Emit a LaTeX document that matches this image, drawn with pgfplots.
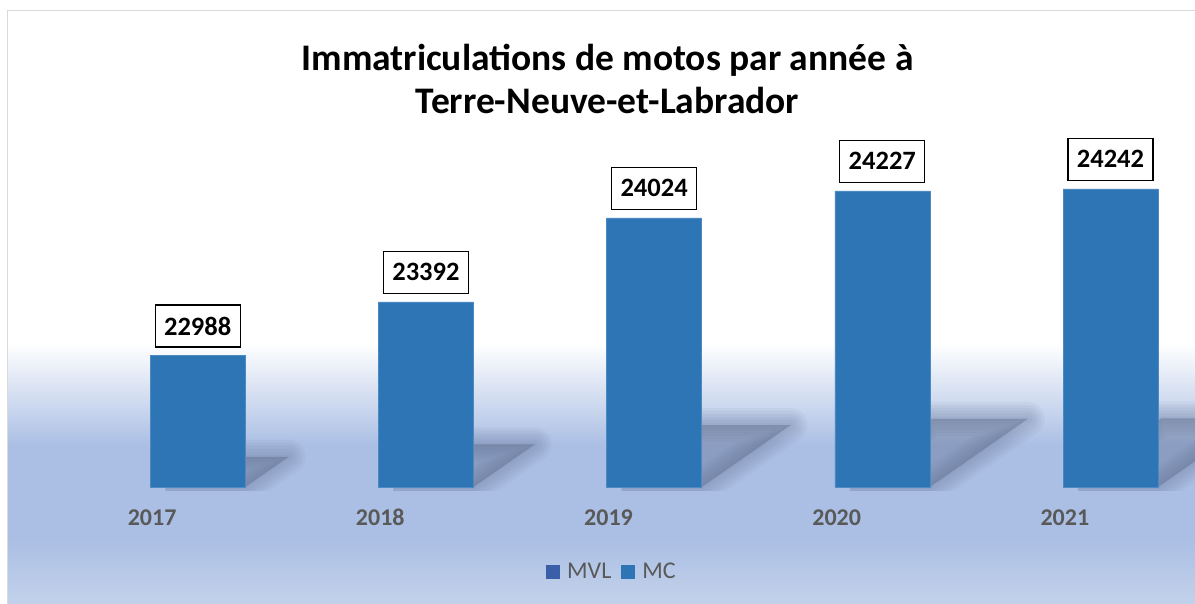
\documentclass[border=0pt]{standalone}
\usepackage{pgfplots}
\pgfplotsset{compat=1.18}
\usepackage{fontspec}
\setmainfont{Carlito}
\definecolor{barblue}{HTML}{2E75B6}
\definecolor{mvlblue}{HTML}{3B5EA8}
\definecolor{bgblue}{HTML}{ABBFE4}
\definecolor{bgbottom}{HTML}{C3D2EB}
\definecolor{txtgray}{HTML}{595959}
\definecolor{framegray}{HTML}{D9D9D9}
\definecolor{shadowc}{HTML}{4A5878}
\begin{document}
\begin{tikzpicture}[x=1pt,y=1pt]
\useasboundingbox (0,0) rectangle (1195,604);
\fill[white] (0,0) rectangle (1195,604);
% background gradient
\shade[top color=white, bottom color=bgblue] (8,159) rectangle (1195,261);
\fill[bgblue] (8,63.8) rectangle (1195,159.4);
\shade[top color=bgblue, bottom color=bgbottom] (8,0) rectangle (1195,64);
\draw[framegray, line width=1.5] (7.5,0) -- (7.5,593.5) -- (1195,593.5);
% soft perspective shadows behind the bars (bar height above the 22000 baseline)
\foreach \i/\hv in {0/988,1/1392,2/2024,3/2227,4/2242}{
  \pgfmathsetmacro\xr{38+228.2*(\i+0.7)+47.45}
  \pgfmathsetmacro\xl{\xr-94.9}
  \pgfmathsetmacro\hh{\hv*0.13293}
  \pgfmathsetmacro\ddx{0.33*\hh}
  \pgfmathsetmacro\ddy{0.23*\hh}
  \begin{scope}
    \clip (\xl+15,113) rectangle (1195,604);
    \foreach \w in {34,28,22,16,10,4}{
      \fill[shadowc, fill opacity=0.06, draw=shadowc, draw opacity=0.05, line width=\w, line join=round]
        (\xl,117) -- (\xr,117) -- (\xr+\ddx,117+\ddy) -- (\xl+\ddx,117+\ddy) -- cycle;
    }
  \end{scope}
}
\begin{axis}[
  at={(38pt,117pt)}, anchor=south west,
  scale only axis, width=1141pt, height=398.8pt,
  xmin=-0.5, xmax=4.5, ymin=22000, ymax=25000,
  clip=false,
  axis line style={draw=none},
  ytick=\empty,
  xtick={0,1,2,3,4},
  xticklabels={2017,2018,2019,2020,2021},
  xtick style={draw=none},
  major tick length=0pt,
  xticklabel style={font=\fontsize{24}{24}\selectfont\bfseries, text=txtgray, anchor=base, yshift=-39pt},
  /pgf/number format/assume math mode=true,
  legend style={at={(0.503,-0.213)}, anchor=center, draw=none, fill=none,
    legend columns=2, font=\fontsize{24}{24}\selectfont, text=txtgray,
    /tikz/every even column/.append style={column sep=8pt}},
]
\addlegendimage{legend image code/.code={\fill[mvlblue, draw=none] (0pt,-7pt) rectangle (14pt,7pt); \path[draw=none, fill=none] (0pt,0pt) -- (19pt,0pt);}}
\addlegendentry{MVL}
\addplot[ybar, fill=barblue, draw=barblue!85!white, bar width=0.416, bar shift=0.2,
  legend image code/.code={\fill[barblue, draw=none] (0pt,-7pt) rectangle (14pt,7pt); \path[draw=none, fill=none] (0pt,0pt) -- (19pt,0pt);},
  nodes near coords={\pgfmathprintnumber[1000 sep={}]{\pgfplotspointmeta}},
  every node near coord/.append style={draw=black, line width=1.3pt, fill=white,
    font=\fontsize{26.5}{26.5}\selectfont\bfseries, text=black, minimum width=85pt,
    minimum height=42pt, inner sep=0pt, anchor=south, xshift=45.6pt, yshift=8pt}]
  coordinates {(0,22988) (1,23392) (2,24024) (3,24227) (4,24242)};
\addlegendentry{MC}
\end{axis}
\node[align=center, font=\fontsize{37.5}{43}\selectfont\bfseries] at (607.5,525.5)
  {Immatriculations de motos par année à\\Terre-Neuve-et-Labrador};
\end{tikzpicture}
\end{document}
